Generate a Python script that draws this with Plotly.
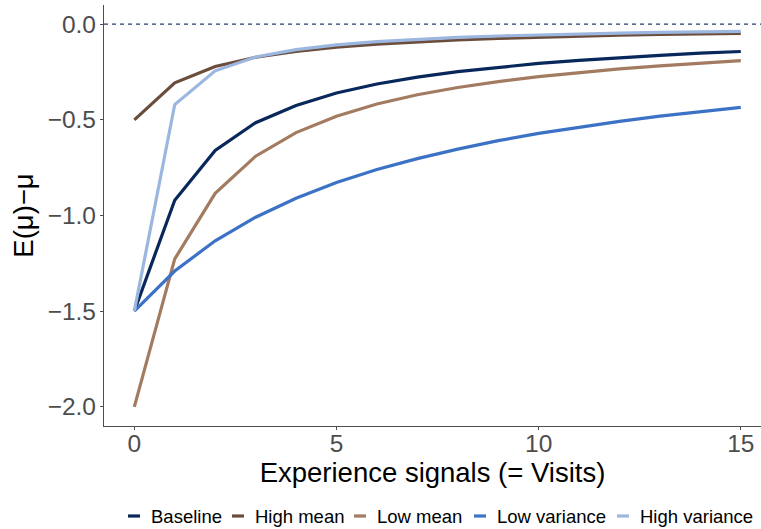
import plotly.graph_objects as go

# Number of experience signals (visits)
visits = list(range(16))

# Expected posterior mean minus true mean, per scenario
baseline = [-1.50, -0.92, -0.66, -0.515, -0.425, -0.36, -0.313, -0.277, -0.248,
            -0.225, -0.205, -0.189, -0.175, -0.163, -0.152, -0.143]
high_mean = [-0.50, -0.307, -0.221, -0.173, -0.142, -0.120, -0.104, -0.092, -0.083,
             -0.075, -0.068, -0.063, -0.058, -0.054, -0.051, -0.048]
low_mean = [-2.00, -1.227, -0.884, -0.69, -0.567, -0.481, -0.417, -0.369, -0.331,
            -0.30, -0.274, -0.252, -0.234, -0.218, -0.203, -0.191]
low_variance = [-1.50, -1.29, -1.132, -1.009, -0.91, -0.828, -0.76, -0.703, -0.653,
                -0.609, -0.571, -0.538, -0.508, -0.481, -0.457, -0.435]
high_variance = [-1.50, -0.42, -0.244, -0.172, -0.133, -0.108, -0.091, -0.079, -0.069,
                 -0.062, -0.056, -0.051, -0.047, -0.043, -0.040, -0.038]

series_names = ["Baseline", "High mean", "Low mean", "Low variance", "High variance"]
series_values = [baseline, high_mean, low_mean, low_variance, high_variance]
series_colors = ["#08275A", "#6B4D3C", "#A27B61", "#3C72C6", "#9BB7E0"]

y_ticks = [0.0, -0.5, -1.0, -1.5, -2.0]
x_ticks = [0, 5, 10, 15]

FONT = "Liberation Sans, Arial, sans-serif"

fig = go.Figure()

for name, vals, col in zip(series_names, series_values, series_colors):
    fig.add_trace(go.Scatter(
        x=visits, y=vals, mode="lines", name=name,
        line=dict(color=col, width=3.2), showlegend=False,
    ))

# Reference line at zero bias
fig.add_hline(y=0, line=dict(color="#1F3D70", width=1.2, dash="4px,4px"))

W, H = 761, 529
L, R, T, B = 104, 0, 5, 103

axis_common = dict(
    showgrid=False, zeroline=False, showline=True, linecolor="#4D4D4D", linewidth=1.2,
    ticks="outside", ticklen=3, tickcolor="#4D4D4D", tickwidth=1.2,
    tickfont=dict(family=FONT, size=24.5, color="#4D4D4D"),
)

fig.update_layout(
    width=W, height=H,
    margin=dict(l=L, r=R, t=T, b=B),
    plot_bgcolor="white", paper_bgcolor="white",
    xaxis=dict(range=[-0.75, 15.5], tickvals=x_ticks, ticklabelstandoff=-8, **axis_common,
               title=dict(text="Experience signals (= Visits)", standoff=0,
                          font=dict(family=FONT, size=27.5, color="black"))),
    yaxis=dict(range=[-2.1, 0.1], tickvals=y_ticks, tickformat=".1f", ticklabelstandoff=-1,
               **axis_common,
               title=dict(text="E(\u03bc)\u2212\u03bc", standoff=6,
                          font=dict(family=FONT, size=27.5, color="black"))),
)

# Horizontal legend along the bottom with short line keys
key_x = [128, 232, 354, 474, 617]
legend_row = 516
for kx, name, col in zip(key_x, series_names, series_colors):
    yp = (H - legend_row - B) / (H - T - B)
    fig.add_shape(type="line", xref="paper", yref="paper",
                  x0=(kx - L) / (W - L - R), x1=(kx + 12 - L) / (W - L - R),
                  y0=yp, y1=yp, line=dict(color=col, width=3.2))
    fig.add_annotation(xref="paper", yref="paper",
                       x=(kx + 21 - L) / (W - L - R), y=yp,
                       text=name, showarrow=False, xanchor="left", yanchor="middle",
                       font=dict(family=FONT, size=18.5, color="black"))

fig.write_html("out.html")
